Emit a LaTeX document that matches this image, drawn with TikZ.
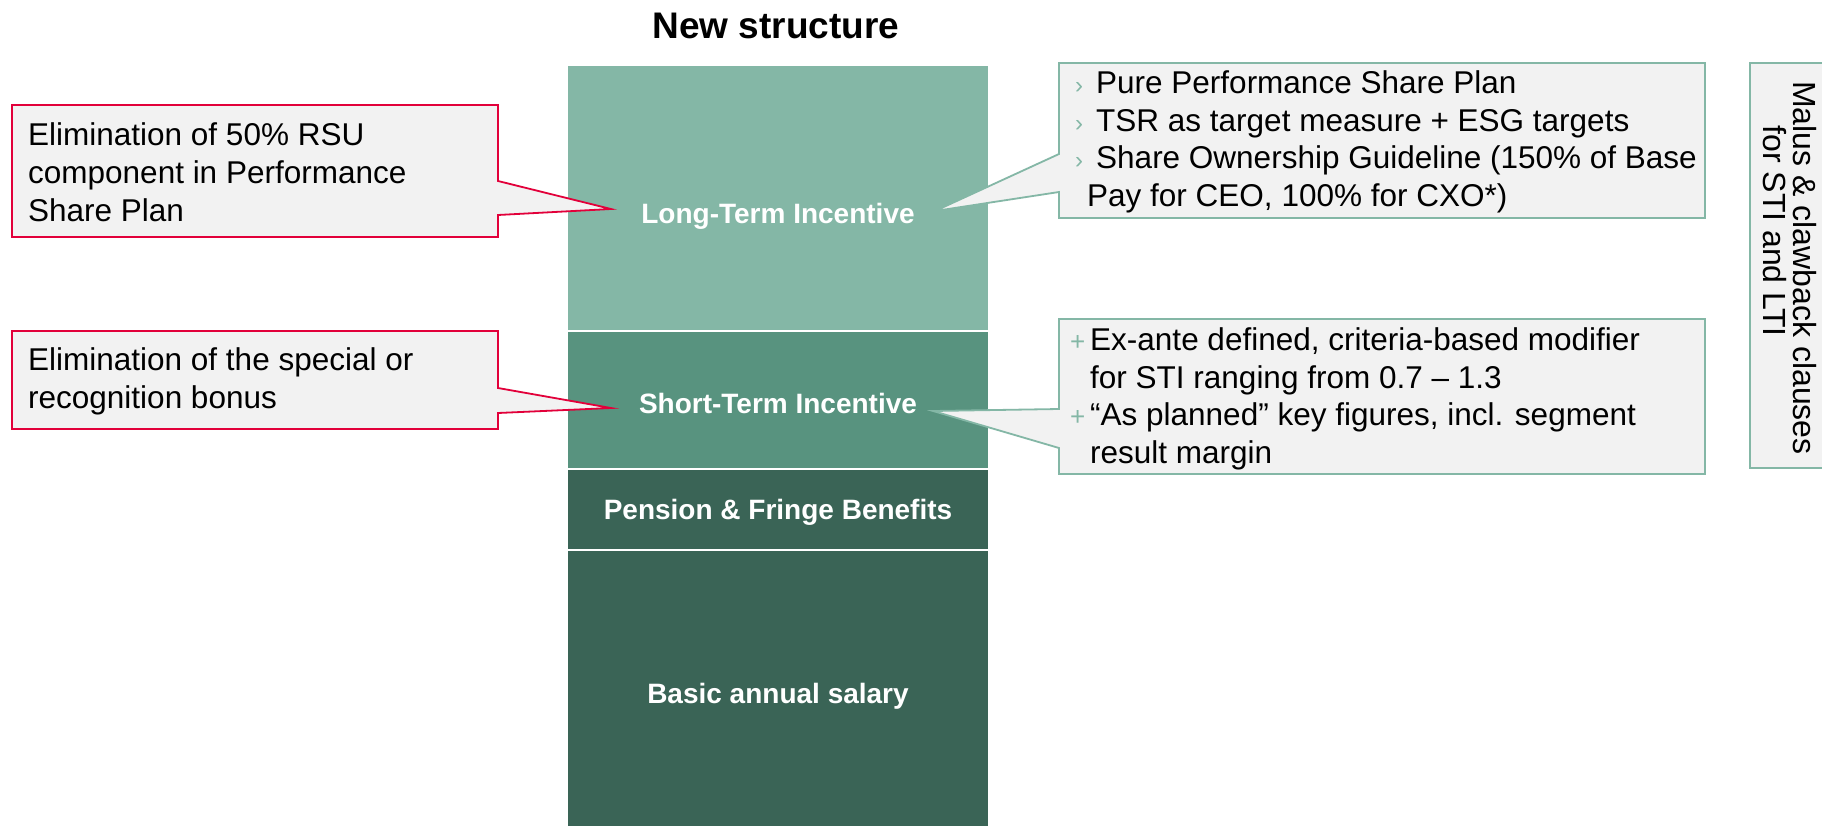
\documentclass[tikz,border=0pt]{standalone}
\usepackage{fontspec}
\setmainfont{Liberation Sans}
\definecolor{ltigreen}{RGB}{132,183,166}
\definecolor{stigreen}{RGB}{88,147,127}
\definecolor{basegreen}{RGB}{58,100,86}
\definecolor{calloutred}{RGB}{226,0,58}
\definecolor{calloutfill}{RGB}{242,242,242}
\definecolor{framegreen}{RGB}{132,183,166}
\tikzset{
  seg/.style={rectangle, draw=white, line width=2pt, minimum width=422pt, inner sep=0pt},
  seglabel/.style={text=white, font=\fontsize{28}{32}\selectfont\bfseries, inner sep=0pt},
  redcallout/.style={draw=calloutred, fill=calloutfill, line width=1.8pt, line join=miter},
  greencallout/.style={draw=framegreen, fill=calloutfill, line width=1.8pt, line join=miter},
  bodytext/.style={font=\fontsize{31.5}{38}\selectfont, align=left, inner sep=0pt, anchor=west},
  listtext/.style={font=\fontsize{31.5}{37.5}\selectfont, align=left, inner sep=0pt, anchor=west},
}
\newcommand{\arrowitem}{\makebox[21pt][l]{\textcolor{framegreen}{\fontsize{24}{24}\selectfont ›}}}
\newcommand{\plusitem}{\makebox[22pt][l]{\hspace*{2pt}\textcolor{framegreen}{\fontsize{26}{26}\selectfont +}}}
\newcommand{\hangitem}{\hspace*{22pt}}
\begin{document}
\begin{tikzpicture}[x=1pt,y=-1pt]
\useasboundingbox (0,0) rectangle (1822,825);
\clip (0,0) rectangle (1822,825);
\fill[white] (0,0) rectangle (1822,825);

% title
\node[font=\fontsize{37}{40}\selectfont\bfseries, anchor=base, inner sep=0pt] (title) at (776,38) {New structure};

% stacked compensation column
\node[seg, fill=ltigreen, minimum height=266pt] (lti) at (778,198) {};
\node[seg, fill=stigreen, minimum height=138pt] (sti) at (778,400) {};
\node[seg, fill=basegreen, minimum height=81pt] (pension) at (778,509.5) {};
\node[seg, fill=basegreen, minimum height=290pt] (basic) at (778,695) {};

% callouts on the left
\coordinate (tipA) at (611,209);
\coordinate (tipB) at (611,408);
\draw[redcallout] (12,105) -- (498,105) -- (498,181) -- (tipA) -- (498,215) -- (498,237) -- (12,237) -- cycle;
\draw[redcallout] (12,331) -- (498,331) -- (498,388) -- (tipB) -- (498,413) -- (498,429) -- (12,429) -- cycle;
\node[bodytext] (elimA) at (28,172) {Elimination of 50\% RSU\\component in Performance\\Share Plan};
\node[bodytext] (elimB) at (28,381) {Elimination of the special or\\recognition bonus};

% callouts on the right
\coordinate (tipC) at (935,211);
\coordinate (tipD) at (933,411);
\draw[greencallout] (1059,63) -- (1705,63) -- (1705,218) -- (1059,218) -- (1059,192) -- (tipC) -- (1059,154) -- cycle;
\draw[greencallout] (1059,319) -- (1705,319) -- (1705,474) -- (1059,474) -- (1059,448) -- (tipD) -- (1059,409) -- cycle;
\node[listtext] (ltilist) at (1075,142) {\arrowitem Pure Performance Share Plan\\
\arrowitem TSR as target measure + ESG targets\\
\arrowitem Share Ownership Guideline (150\% of Base\\
\hspace*{12pt}Pay for CEO, 100\% for CXO*)};
\node[listtext] (stilist) at (1068,399) {\plusitem Ex-ante defined, criteria-based modifier\\
\hangitem for STI ranging from 0.7 – 1.3\\
\plusitem “As planned\char"22\ key figures, incl. segment\\
\hangitem result margin};

% segment labels
\node[seglabel] (ltilabel) at (778,216) {Long-Term Incentive};
\node[seglabel] (stilabel) at (778,403) {Short-Term Incentive};
\node[seglabel] (pensionlabel) at (778,512) {Pension \& Fringe Benefits};
\node[seglabel] (basiclabel) at (778,696) {Basic annual salary};

% malus & clawback side panel
\draw[draw=framegreen, fill=calloutfill, line width=1.5pt] (1750,63) rectangle (1840,468);
\node[rotate=-90, font=\fontsize{32}{36}\selectfont, inner sep=0pt] (malus) at (1805,268) {Malus \& clawback clauses};
\node[rotate=-90, font=\fontsize{32}{36}\selectfont, inner sep=0pt] (malusb) at (1775,231) {for STI and LTI};
\end{tikzpicture}
\end{document}
